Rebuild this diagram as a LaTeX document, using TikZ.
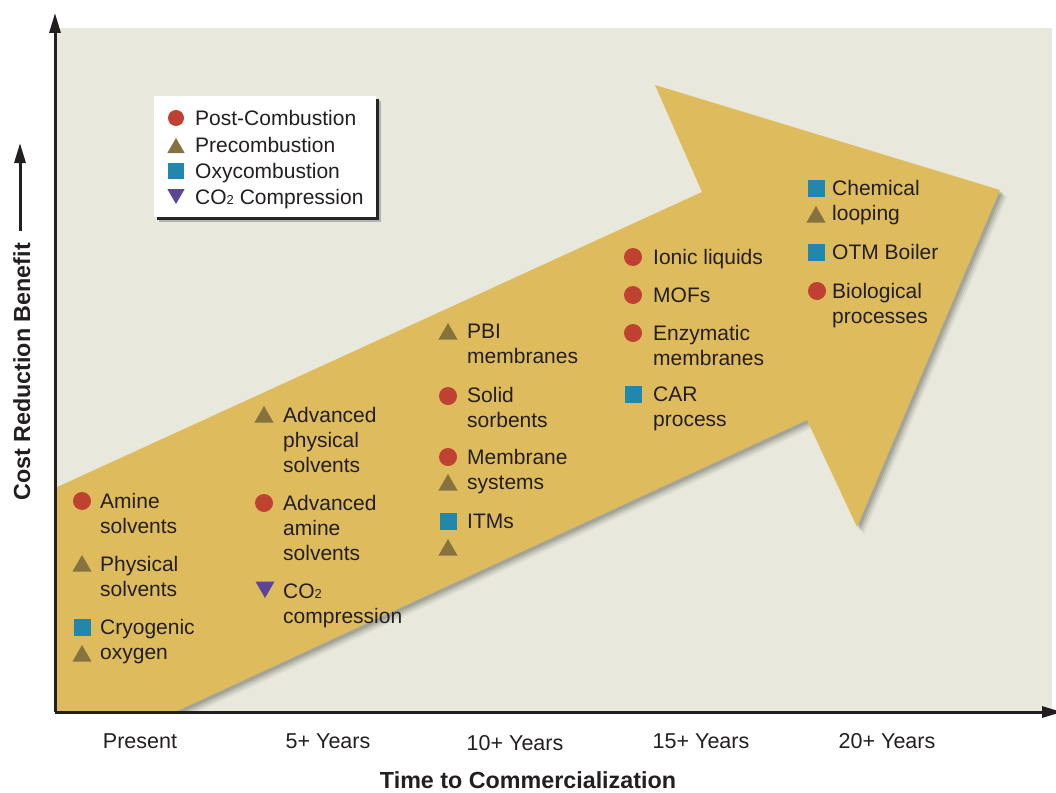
\documentclass[tikz,border=0pt]{standalone}
\usepackage{fontspec}
\setmainfont{Liberation Sans}
\usetikzlibrary{shapes.geometric,arrows.meta}
\definecolor{bgc}{HTML}{E8E9DC}
\definecolor{arrowc}{HTML}{DEBC5E}
\definecolor{postc}{HTML}{BE4132}
\definecolor{prec}{HTML}{85723E}
\definecolor{oxyc}{HTML}{2287AD}
\definecolor{compc}{HTML}{5B4596}
\definecolor{txt}{HTML}{231F20}
\newcommand\subtwo{{\fontsize{13}{13}\selectfont 2}}
\begin{document}
\begin{tikzpicture}[x=1pt,y=-1pt,
  post/.style={circle,fill=postc,minimum size=18pt,inner sep=0pt},
  pre/.style={regular polygon,regular polygon sides=3,fill=prec,minimum size=22pt,inner sep=0pt},
  oxy/.style={rectangle,fill=oxyc,minimum size=17pt,inner sep=0pt},
  comp/.style={regular polygon,regular polygon sides=3,shape border rotate=180,fill=compc,minimum size=22pt,inner sep=0pt},
  lbl/.style={anchor=base west,align=left,inner sep=0pt,text=txt,font=\fontsize{21}{25}\selectfont},
  tick/.style={anchor=base,inner sep=0pt,text=txt,font=\fontsize{21.5}{25}\selectfont},
  axtitle/.style={anchor=base,inner sep=0pt,text=txt,font=\bfseries\fontsize{23.3}{27}\selectfont},
  axisline/.style={line width=3pt,draw=txt,-{Triangle[length=20pt,width=11pt]}},
  small/.style={minimum size=16pt},
  shade/.style={fill=black,opacity=#1}
]
\useasboundingbox (0,0) rectangle (1056,792);
\fill[bgc] (57,28) rectangle (1052,712);
\def\bigarrow{(55,488) -- (702,192) -- (655,85) -- (1000,190) -- (857,527) -- (807,420) -- (175,712) -- (55,712) -- cycle}
\begin{scope}
  \clip (57,28) rectangle (1052,712);
  \foreach \s/\o in {7/0.05,5.5/0.07,4/0.09,2.5/0.12}{
    \fill[shade=\o,xshift=\s pt,yshift=-\s pt] \bigarrow;
  }
  \fill[arrowc] \bigarrow;
\end{scope}

% axes
\coordinate (o) at (55,712);
\coordinate (ytip) at (55,13);
\coordinate (xtip) at (1062,712);
\draw[axisline] (o) -- (ytip);
\draw[axisline] (o) -- (xtip);
\coordinate (sb) at (20,231);
\coordinate (st) at (20,143);
\draw[axisline] (sb) -- (st);

% legend
\fill[black!30] (159,101) rectangle (381,222);
\fill[black!85] (157,99) rectangle (379,220);
\fill[white] (154,96) rectangle (376,217);
\node[post,small] (l1) at (176,118) {};
\node[lbl] (lt1) at (195,125.5) {Post-Combustion};
\node[pre,minimum size=20pt] (l2) at (176,148) {};
\node[lbl] (lt2) at (195,152.5) {Precombustion};
\node[oxy,small] (l3) at (176,171) {};
\node[lbl] (lt3) at (195,178.5) {Oxycombustion};
\node[comp,minimum size=20pt] (l4) at (176,194) {};
\node[lbl] (lt4) at (195,204.5) {CO\subtwo{} Compression};

% Present
\node[post] (m1) at (82,501) {};
\node[lbl] (t1) at (100,533.5) {Amine\\solvents};
\node[pre] (m2) at (82,566) {};
\node[lbl] (t2) at (100,596.5) {Physical\\solvents};
\node[oxy] (m3) at (82,627) {};
\node[lbl] (t3) at (100,659.5) {Cryogenic\\oxygen};
\node[pre] (m4) at (82,656) {};

% 5+ years
\node[pre] (m5) at (264,417) {};
\node[lbl] (t5) at (283,472.5) {Advanced\\physical\\solvents};
\node[post] (m6) at (264,503) {};
\node[lbl] (t6) at (283,560.5) {Advanced\\amine\\solvents};
\node[comp] (m7) at (265,587) {};
\node[lbl] (t7) at (283,623.5) {CO\subtwo\\compression};

% 10+ years
\node[pre] (m8) at (448,334) {};
\node[lbl] (t8) at (467,363.5) {PBI\\membranes};
\node[post] (m9) at (448,396) {};
\node[lbl] (t9) at (467,427.5) {Solid\\sorbents};
\node[post] (m10) at (448,457) {};
\node[lbl] (t10) at (467,489.5) {Membrane\\systems};
\node[pre] (m11) at (448,485) {};
\node[oxy] (m12) at (448,521) {};
\node[lbl] (t12) at (467,528.5) {ITMs};
\node[pre] (m13) at (448,550) {};

% 15+ years
\node[post] (m14) at (633,257) {};
\node[lbl] (t14) at (653,264.5) {Ionic liquids};
\node[post] (m15) at (633,295) {};
\node[lbl] (t15) at (653,302.5) {MOFs};
\node[post] (m16) at (633,333) {};
\node[lbl] (t16) at (653,365.5) {Enzymatic\\membranes};
\node[oxy] (m17) at (633,394) {};
\node[lbl] (t17) at (653,426.5) {CAR\\process};

% 20+ years
\node[oxy] (m18) at (816,188) {};
\node[lbl] (t18) at (832,220.5) {Chemical\\looping};
\node[pre] (m19) at (816,217) {};
\node[oxy] (m20) at (816,252) {};
\node[lbl] (t20) at (832,259.5) {OTM Boiler};
\node[post] (m21) at (817,291) {};
\node[lbl] (t21) at (832,323.5) {Biological\\processes};

% ticks
\node[tick] (x0) at (140,748) {Present};
\node[tick] (x1) at (328,748) {5+ Years};
\node[tick] (x2) at (515,750) {10+ Years};
\node[tick] (x3) at (701,748) {15+ Years};
\node[tick] (x4) at (887,748) {20+ Years};

\node[axtitle] (xt) at (528,788) {Time to Commercialization};
\node[axtitle,rotate=90] (yt) at (30,372) {Cost Reduction Benefit};
\end{tikzpicture}
\end{document}
